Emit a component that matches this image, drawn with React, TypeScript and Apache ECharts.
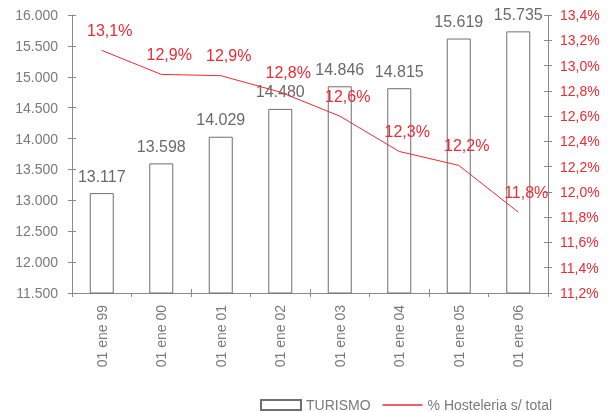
import React, { useEffect, useRef } from "react";
import * as echarts from "echarts";

const categories = ["01 ene 99", "01 ene 00", "01 ene 01", "01 ene 02", "01 ene 03", "01 ene 04", "01 ene 05", "01 ene 06"];
const turismo = [13117, 13598, 14029, 14480, 14846, 14815, 15619, 15735];
const hosteleriaPct = [13.12, 12.93, 12.92, 12.79, 12.6, 12.32, 12.21, 11.84];

const FONT = "Liberation Sans, Arial, sans-serif";
const GRAY = "#7a7a7a";
const RED = "#ee2a33";

export default function App() {
  const ref = useRef<HTMLDivElement>(null);
  useEffect(() => {
    if (!ref.current) return;
    const chart = echarts.init(ref.current, undefined, { renderer: "svg" });
    const fmtThousands = (v: number) => {
      const s = Math.round(v).toString();
      return s.replace(/\B(?=(\d{3})+(?!\d))/g, ".");
    };
    const fmtPct = (v: number) => v.toFixed(1).replace(".", ",") + "%";
    const axisLine = { show: true, lineStyle: { color: "#8a8a8a", width: 1 } };
    chart.setOption({
      animation: false,
      textStyle: { fontFamily: FONT },
      grid: { left: 72, right: 64, top: 15, bottom: 119 },
      legend: {
        left: 255,
        top: 393,
        itemWidth: 40,
        itemHeight: 10,
        itemGap: 12,
        symbolKeepAspect: true,
        textStyle: { fontSize: 14, color: GRAY, fontFamily: FONT },
        data: [
          { name: "TURISMO", icon: "rect" },
          { name: "% Hosteleria s/ total", icon: "path://M0,0L40,0L40,1.3L0,1.3Z" },
        ],
      },
      xAxis: [
        {
          type: "category",
          data: categories,
          axisLine,
          axisTick: { show: true, length: 4, lineStyle: { color: "#8a8a8a" } },
          axisLabel: { rotate: 90, color: GRAY, fontSize: 14, fontFamily: FONT, margin: 12 },
        },
        {
          type: "category",
          data: categories,
          position: "bottom",
          axisLine: { show: false },
          axisTick: { show: true, inside: true, length: 4, lineStyle: { color: "#8a8a8a" } },
          axisLabel: { show: false },
        },
      ],
      yAxis: [
        {
          type: "value",
          position: "left",
          min: 11500,
          max: 16000,
          interval: 500,
          splitLine: { show: false },
          axisLine,
          axisTick: { show: true, length: 4, lineStyle: { color: "#8a8a8a" } },
          axisLabel: { color: GRAY, fontSize: 14, fontFamily: FONT, margin: 14, formatter: fmtThousands },
        },
        {
          type: "value",
          position: "right",
          min: 11.2,
          max: 13.4,
          interval: 0.2,
          splitLine: { show: false },
          axisLine,
          axisTick: { show: true, length: 4, lineStyle: { color: "#8a8a8a" } },
          axisLabel: { color: RED, fontSize: 14, fontFamily: FONT, margin: 12, formatter: fmtPct },
        },
        {
          type: "value",
          position: "left",
          min: 11500,
          max: 16000,
          interval: 500,
          splitLine: { show: false },
          axisLine: { show: false },
          axisTick: { show: true, inside: true, length: 4, lineStyle: { color: "#8a8a8a" } },
          axisLabel: { show: false },
        },
        {
          type: "value",
          position: "right",
          min: 11.2,
          max: 13.4,
          interval: 0.2,
          splitLine: { show: false },
          axisLine: { show: false },
          axisTick: { show: true, inside: true, length: 4, lineStyle: { color: "#8a8a8a" } },
          axisLabel: { show: false },
        },
      ],
      series: [
        {
          name: "TURISMO",
          type: "bar",
          xAxisIndex: 0,
          yAxisIndex: 0,
          data: turismo,
          barWidth: 24,
          itemStyle: { color: "#ffffff", borderColor: "#6f6f6f", borderWidth: 1 },
          label: {
            show: true,
            position: "top",
            distance: 9,
            color: "#6a6a6a",
            fontSize: 16,
            fontFamily: FONT,
            formatter: (p: any) => fmtThousands(p.value),
          },
        },
        {
          name: "% Hosteleria s/ total",
          type: "line",
          xAxisIndex: 0,
          yAxisIndex: 1,
          data: hosteleriaPct,
          symbol: "circle",
          symbolSize: 0,
          showSymbol: true,
          lineStyle: { color: RED, width: 1 },
          itemStyle: { color: RED },
          label: {
            show: true,
            position: "top",
            distance: 5,
            offset: [8, -7],
            color: RED,
            fontSize: 16,
            fontFamily: FONT,
            formatter: (p: any) => fmtPct(p.value),
          },
        },
      ],
    });
    return () => chart.dispose();
  }, []);
  return <div ref={ref} style={{ position: "fixed", left: 0, top: 0, width: 612, height: 412 }} />;
}
